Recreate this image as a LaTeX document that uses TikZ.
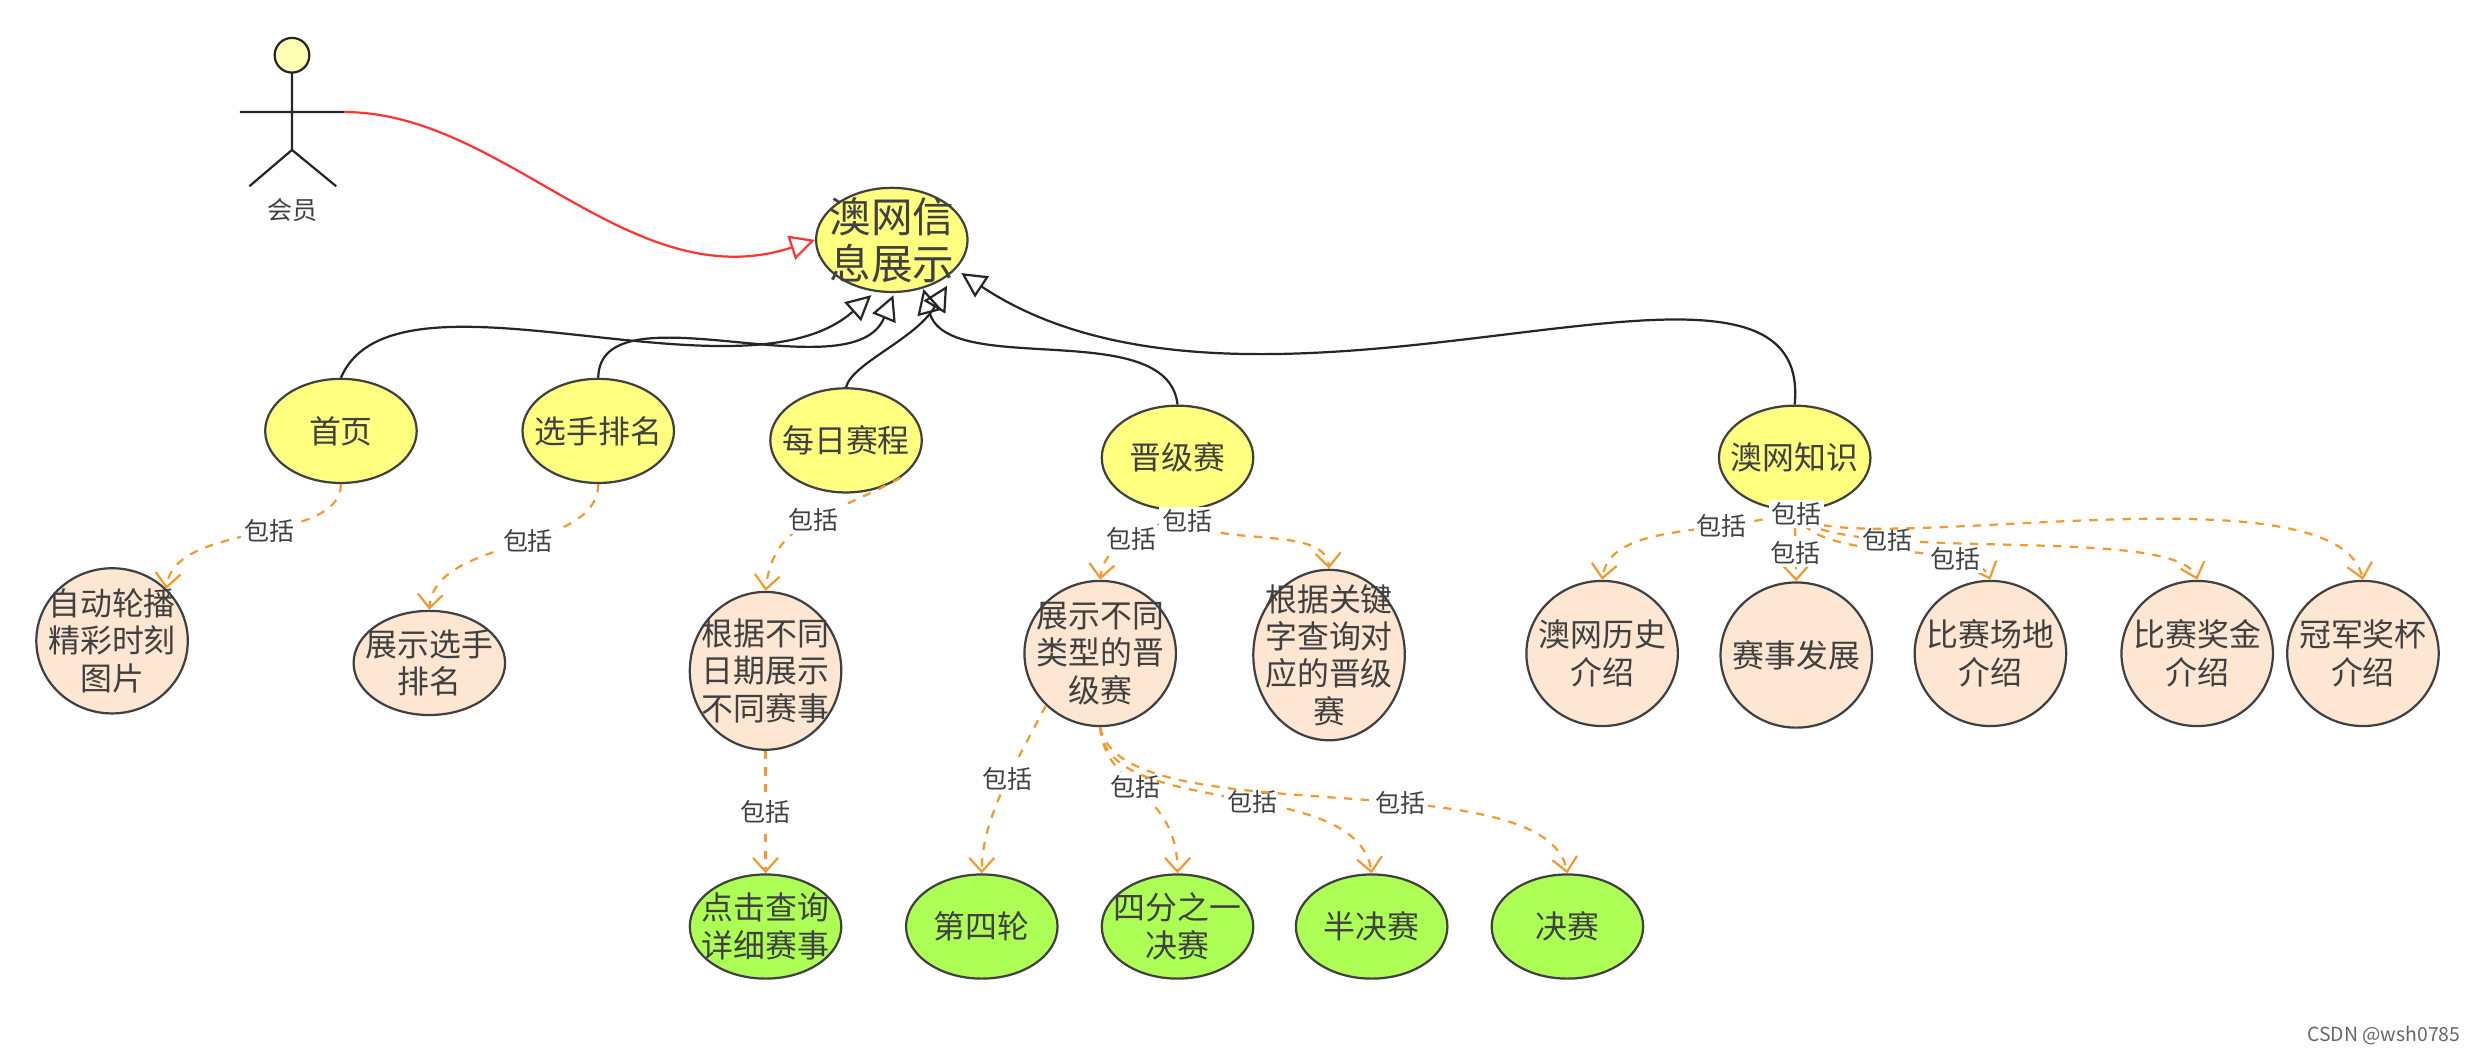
\documentclass[tikz,border=0pt]{standalone}
\usepackage{fontspec}
\setmainfont{Noto Sans CJK SC}
\usetikzlibrary{arrows.meta,shapes.geometric}
\definecolor{usecase}{HTML}{FFFF80}
\definecolor{peach}{HTML}{FDE6D2}
\definecolor{leaf}{HTML}{ADFF55}
\definecolor{inc}{HTML}{F39A2C}
\tikzset{
  uc/.style={ellipse, draw=black!75, thick, inner sep=-5pt, minimum width=1.92cm, minimum height=1.32cm, align=center, font=\fontsize{11.5}{13.5}\selectfont, text=black!75},
  gen/.style={draw=black!85, thick, -{Triangle[open,length=9pt,width=9pt]}},
  incl/.style={draw=inc, thick, dashed, -{Straight Barb[length=5pt,width=9pt]}},
  lbl/.style={fill=white, inner sep=1pt, font=\fontsize{9}{11}\selectfont, text=black!75}
}
\begin{document}
\begin{tikzpicture}[x=0.02cm,y=-0.02cm]
\useasboundingbox (0,0) rectangle (1568,671);
% actor
\node (head) [circle, draw=black!85, thick, fill=usecase!60, minimum size=0.44cm, inner sep=0pt] at (185,35) {};
\coordinate (neck) at (185,46);
\coordinate (hip) at (185,95);
\draw[thick, black!85] (neck) -- (hip) (152,71) -- (218,71) (hip) -- (158,118) (hip) -- (213,118);
\node (actor) [font=\fontsize{9}{11}\selectfont, text=black!75] at (185,133) {会员};
\coordinate (hand) at (218,71);
% use cases
\node (root) [uc, fill=usecase, font=\fontsize{15}{17}\selectfont] at (565,152) {澳网信\\息展示};
\node (home) [uc, fill=usecase] at (216,273) {首页};
\node (rank) [uc, fill=usecase] at (379,273) {选手排名};
\node (daily) [uc, fill=usecase] at (536,279) {每日赛程};
\node (promo) [uc, fill=usecase] at (746,290) {晋级赛};
\node (know) [uc, fill=usecase] at (1137,290) {澳网知识};
\node (carousel) [uc, fill=peach, minimum height=1.84cm] at (71,406) {自动轮播\\精彩时刻\\图片};
\node (showrank) [uc, fill=peach] at (272,420) {展示选手\\排名};
\node (bydate) [uc, fill=peach, minimum height=2cm] at (485,425) {根据不同\\日期展示\\不同赛事};
\node (types) [uc, fill=peach, minimum height=1.84cm] at (697,414) {展示不同\\类型的晋\\级赛};
\node (search) [uc, fill=peach, minimum height=2.16cm] at (842,415) {根据关键\\字查询对\\应的晋级\\赛};
\node (history) [uc, fill=peach, minimum height=1.84cm] at (1015,414) {澳网历史\\介绍};
\node (develop) [uc, fill=peach, minimum height=1.84cm] at (1138,415) {赛事发展};
\node (venue) [uc, fill=peach, minimum height=1.84cm] at (1261,414) {比赛场地\\介绍};
\node (prize) [uc, fill=peach, minimum height=1.84cm] at (1392,414) {比赛奖金\\介绍};
\node (trophy) [uc, fill=peach, minimum height=1.84cm] at (1497,414) {冠军奖杯\\介绍};
\node (detail) [uc, fill=leaf] at (485,587) {点击查询\\详细赛事};
\node (r4) [uc, fill=leaf] at (622,587) {第四轮};
\node (qf) [uc, fill=leaf] at (746,587) {四分之一\\决赛};
\node (sf) [uc, fill=leaf] at (869,587) {半决赛};
\node (final) [uc, fill=leaf] at (993,587) {决赛};
% association
\draw[red!80, thick, -{Triangle[open,length=9pt,width=9pt]}] (hand) .. controls (320,71) and (400,190) .. (root.west);
% generalization
\draw[gen] (home.north) .. controls (250,160) and (470,260) .. (552,187);
\draw[gen] (rank.north) .. controls (380,180) and (540,250) .. (566,187);
\draw[gen] (daily.north) .. controls (540,230) and (580,215) .. (600,181);
\draw[gen] (promo.north) .. controls (740,200) and (600,240) .. (585,183);
\draw[gen] (know.north) .. controls (1150,120) and (800,300) .. (609,173);
% include
\draw[incl] (home.south) .. controls (216,345) and (110,330) .. node[lbl, pos=0.45] {包括} (carousel.north east);
\draw[incl] (rank.south) .. controls (379,350) and (275,340) .. node[lbl, pos=0.45] {包括} (showrank.north);
\draw[incl] (daily.south east) .. controls (520,330) and (490,330) .. node[lbl, pos=0.45] {包括} (bydate.north);
\draw[incl] (bydate.south) -- node[lbl] {包括} (detail.north);
\draw[incl] (promo.south) .. controls (730,340) and (700,340) .. node[lbl, pos=0.5] {包括} (types.north);
\draw[incl] (promo.south) .. controls (760,350) and (840,330) .. node[lbl, pos=0.1] {包括} (search.north);
\draw[incl] (know.south) .. controls (1090,340) and (1020,330) .. node[lbl, pos=0.3] {包括} (history.north);
\draw[incl] (know.south) -- node[lbl, pos=0.6] {包括} (develop.north);
\draw[incl] (know.south) .. controls (1150,360) and (1250,340) .. node[lbl, pos=0.75] {包括} (venue.north);
\draw[incl] (know.south) .. controls (1150,360) and (1380,330) .. node[lbl, pos=0.3] {包括} (prize.north);
\draw[incl] (know.south) .. controls (1150,360) and (1480,290) .. node[lbl, pos=0.02] {包括} (trophy.north);
\draw[incl] (types.south west) .. controls (640,490) and (622,520) .. node[lbl, pos=0.4] {包括} (r4.north);
\draw[incl] (types.south) .. controls (700,500) and (746,500) .. node[lbl, pos=0.45] {包括} (qf.north);
\draw[incl] (types.south) .. controls (700,520) and (860,490) .. node[lbl, pos=0.55] {包括} (sf.north);
\draw[incl] (types.south) .. controls (710,530) and (980,480) .. node[lbl, pos=0.6] {包括} (final.north);
\node (mark) [font=\fontsize{7}{9}\selectfont, text=black!60, anchor=south east] at (1565,668) {CSDN @wsh0785};
\end{tikzpicture}
\end{document}
